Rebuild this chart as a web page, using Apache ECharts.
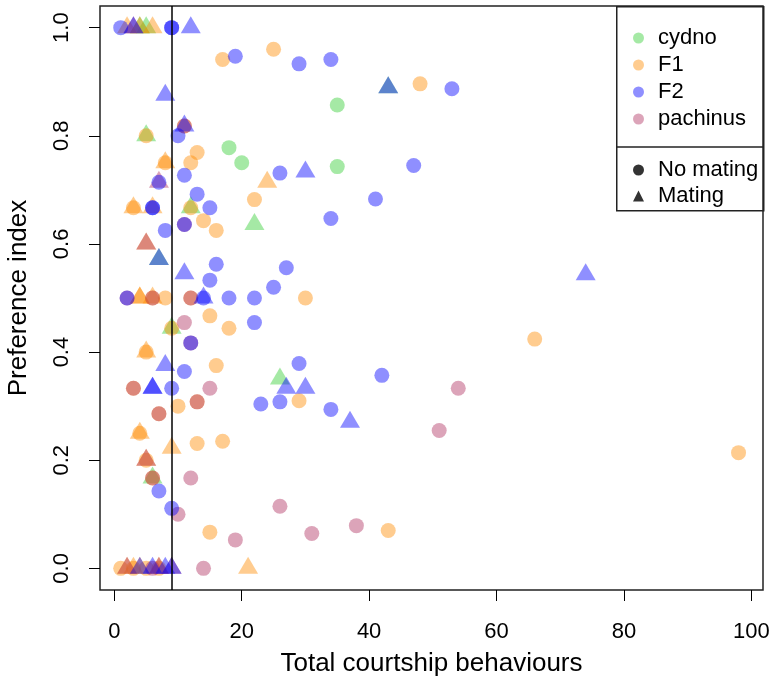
<!DOCTYPE html>
<html><head><meta charset="utf-8">
<script src="https://cdn.jsdelivr.net/npm/echarts@6/dist/echarts.min.js"></script>
<style>html,body{margin:0;padding:0;background:#fff}#c{width:775px;height:687px}</style>
</head><body><div id="c"></div>
<script>
// ---- data ----
const groups = ['cydno', 'F1', 'F2', 'pachinus'];
const shapeLabels = ['No mating', 'Mating'];
const xTicks = [0, 20, 40, 60, 80, 100];
const yTicks = [0, 0.2, 0.4, 0.6, 0.8, 1.0];
const xTitle = 'Total courtship behaviours';
const yTitle = 'Preference index';
const cutoff = 9;

const cydnoNoMating = [[35,0.857],[35,0.743],[18,0.778],[20,0.75]];
const cydnoMating = [[43,0.889],[5,0.8],[12,0.667],[22,0.636],[7,0.571],[9,0.444],[26,0.35],[6,0.167],[4,1],[5,1]];
const f1NoMating = [[17,0.941],[25,0.96],[48,0.896],[5,0.8],[11,0.818],[13,0.769],[12,0.75],[8,0.75],[22,0.682],[3,0.667],[12,0.667],[14,0.643],[16,0.625],[6,0.5],[8,0.5],[12,0.5],[30,0.5],[15,0.467],[18,0.444],[9,0.444],[5,0.4],[16,0.375],[3,0.333],[29,0.31],[10,0.3],[13,0.308],[7,0.286],[4,0.25],[13,0.231],[17,0.235],[5,0.2],[6,0.167],[15,0.067],[43,0.07],[66,0.424],[98,0.214],[1,0],[3,0],[5,0],[7,0]];
const f1Mating = [[2,1],[4,1],[6,1],[8,0.75],[24,0.714],[6,0.667],[3,0.667],[5,0.6],[4,0.5],[4,0.5],[6,0.5],[5,0.4],[4,0.25],[9,0.222],[5,0.2],[2,0],[3,0],[4,0],[7,0],[21,0]];
const f2NoMating = [[1,1],[9,1],[9,1],[19,0.947],[29,0.933],[34,0.941],[53,0.887],[10,0.8],[47,0.745],[26,0.731],[11,0.727],[7,0.714],[13,0.692],[41,0.683],[6,0.667],[6,0.667],[15,0.667],[34,0.647],[11,0.636],[8,0.625],[16,0.5625],[27,0.556],[15,0.533],[25,0.52],[2,0.5],[14,0.5],[18,0.5],[22,0.5],[22,0.4545],[12,0.417],[11,0.364],[29,0.379],[42,0.357],[9,0.333],[34,0.294],[23,0.304],[26,0.308],[7,0.143],[9,0.111]];
const f2Mating = [[3,1],[12,1],[8,0.875],[11,0.818],[30,0.733],[7,0.571],[11,0.545],[14,0.5],[8,0.375],[27,0.333],[30,0.333],[6,0.333],[6,0.333],[37,0.27],[74,0.543],[43,0.889],[4,0],[6,0],[8,0],[9,0]];
const pachinusNoMating = [[11,0.818],[6,0.5],[12,0.5],[2,0.5],[11,0.4545],[12,0.417],[11,0.636],[15,0.333],[54,0.333],[13,0.308],[7,0.286],[51,0.255],[12,0.167],[6,0.167],[10,0.1],[26,0.115],[38,0.079],[31,0.0645],[19,0.0526],[14,0],[6,0],[3,0.333]];
const pachinusMating = [[3,1],[7,0.714],[5,0.6],[5,0.2],[2,0],[7,0],[9,0]];

// ---- styles ----
const colors = {
  cydno: 'rgba(50,205,50,0.55)',
  F1: 'rgba(255,140,0,0.55)',
  F2: 'rgba(0,0,255,0.55)',
  pachinus: 'rgba(176,48,96,0.55)'
};
const FONT = '"Liberation Sans", Arial, sans-serif';
const groupData = {
  cydno: [cydnoNoMating, cydnoMating],
  F1: [f1NoMating, f1Mating],
  F2: [f2NoMating, f2Mating],
  pachinus: [pachinusNoMating, pachinusMating]
};
const drawOrder = ['cydno', 'F1', 'pachinus', 'F2'];

const series = [];
drawOrder.forEach(g => {
  series.push({
    name: g, type: 'scatter', symbol: 'circle', symbolSize: 15,
    itemStyle: { color: colors[g] }, data: groupData[g][0], silent: true
  });
  series.push({
    name: g, type: 'scatter', symbol: 'triangle', symbolSize: [20, 17], symbolOffset: [0, -3],
    itemStyle: { color: colors[g] }, data: groupData[g][1], silent: true
  });
});
series.push({ name: shapeLabels[0], type: 'scatter', symbol: 'circle', itemStyle: { color: '#000' }, data: [] });
series.push({ name: shapeLabels[1], type: 'scatter', symbol: 'triangle', itemStyle: { color: '#000' }, data: [] });
series.push({
  name: 'cutoff', type: 'scatter', data: [], silent: true,
  markLine: {
    silent: true, symbol: ['none', 'none'], label: { show: false },
    lineStyle: { color: '#000', width: 1.5, type: 'solid' },
    data: [{ xAxis: cutoff }], animation: false
  }
});

const chart = echarts.init(document.getElementById('c'), null, { renderer: 'canvas' });
chart.setOption({
  animation: false,
  backgroundColor: '#fff',
  grid: { left: 100, right: 12, top: 6, bottom: 97, show: true, borderColor: '#222', borderWidth: 1.5,
    backgroundColor: 'transparent', containLabel: false, outerBoundsMode: 'none' },
  xAxis: {
    type: 'value', min: -2.25, max: 101.84,
    splitLine: { show: false },
    axisLine: { show: false, onZero: false },
    axisTick: { show: true, length: 11, inside: false, customValues: xTicks, lineStyle: { color: '#000', width: 1 } },
    axisLabel: { customValues: xTicks, margin: 31, fontSize: 22, color: '#000', fontFamily: FONT },
    name: xTitle, nameLocation: 'middle', nameGap: 61,
    nameTextStyle: { fontSize: 26, color: '#000', fontFamily: FONT }
  },
  yAxis: {
    type: 'value', min: -0.04, max: 1.04,
    splitLine: { show: false },
    axisLine: { show: false, onZero: false },
    axisTick: { show: true, length: 11, inside: false, customValues: yTicks, lineStyle: { color: '#000', width: 1 } },
    axisLabel: { customValues: yTicks, margin: 27, rotate: 90, fontSize: 22, color: '#000', fontFamily: FONT,
      formatter: v => v.toFixed(1) },
    name: yTitle, nameLocation: 'middle', nameGap: 68, nameRotate: 90,
    nameTextStyle: { fontSize: 26, color: '#000', fontFamily: FONT }
  },
  legend: [
    {
      orient: 'vertical', left: 633, top: 27, padding: 0, itemGap: 5,
      itemWidth: 11, itemHeight: 11, selectedMode: false,
      textStyle: { fontSize: 22, lineHeight: 22, color: '#000', fontFamily: FONT, padding: [0, 0, 0, 9] },
      data: groups.map(g => ({ name: g, icon: 'circle', itemStyle: { color: colors[g] } }))
    },
    {
      orient: 'vertical', left: 633, top: 159, padding: 0, itemGap: 4,
      itemWidth: 11, itemHeight: 11, selectedMode: false,
      textStyle: { fontSize: 22, lineHeight: 22, color: '#000', fontFamily: FONT, padding: [0, 0, 0, 9] },
      data: [{ name: shapeLabels[0], icon: 'circle', itemStyle: { color: '#000' } },
             { name: shapeLabels[1], icon: 'triangle', itemStyle: { color: '#000' } }]
    }
  ],
  graphic: [
    { type: 'rect', left: 616, top: 6, shape: { width: 147, height: 204 }, style: { fill: 'transparent', stroke: '#222', lineWidth: 1.5 }, silent: true, z: 10 },
    { type: 'line', shape: { x1: 616, y1: 147, x2: 763, y2: 147 }, style: { stroke: '#222', lineWidth: 1.5 }, silent: true, z: 10 }
  ],
  series: series
});
</script>
</body></html>
